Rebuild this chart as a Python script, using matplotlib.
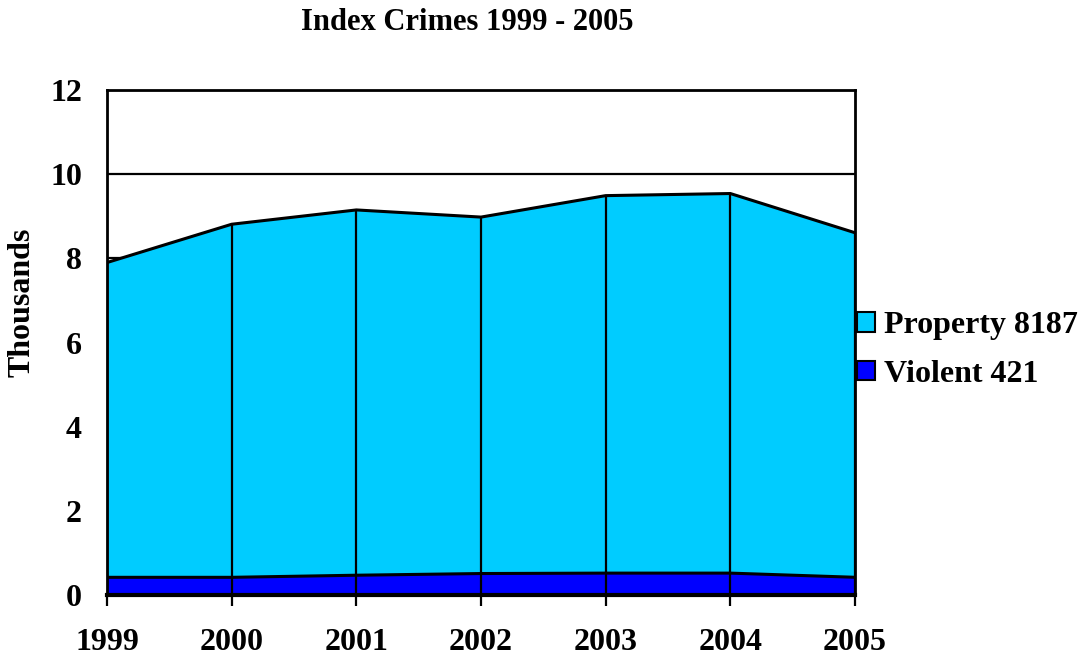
import matplotlib
matplotlib.use("Agg")
import matplotlib.pyplot as plt
from matplotlib.patches import Patch

years = [1999, 2000, 2001, 2002, 2003, 2004, 2005]
violent = [0.42, 0.42, 0.47, 0.51, 0.52, 0.52, 0.421]
property_ = [7.48, 8.39, 8.68, 8.47, 8.97, 9.02, 8.187]
series_labels = ["Property 8187", "Violent 421"]
yticks = [0, 2, 4, 6, 8, 10, 12]

plt.rcParams['font.family'] = ['Liberation Serif', 'DejaVu Serif']
plt.rcParams['font.weight'] = 'bold'

fig = plt.figure(figsize=(10.87, 6.58), dpi=100)
ax = fig.add_axes([107/1087, 1 - 595/658, (855-107)/1087, (595-90)/658])

total = [v + p for v, p in zip(violent, property_)]
ax.fill_between(years, 0, violent, color='#0000FF', zorder=2, linewidth=0)
ax.fill_between(years, violent, total, color='#00CCFF', zorder=2, linewidth=0)
ax.plot(years, violent, color='black', lw=2.2, zorder=3)
ax.plot(years, total, color='black', lw=2.2, zorder=3)
ax.vlines(years, 0, total, color='black', lw=1.6, zorder=3)

ax.set_xlim(1999, 2005)
ax.set_ylim(0, 12)
ax.set_xticks(years)
ax.set_xticklabels([str(y) for y in years], fontsize=23, fontweight='bold')
ax.set_yticks(yticks)
ax.set_yticklabels([str(t) for t in yticks], fontsize=23, fontweight='bold')
ax.tick_params(axis='x', direction='out', length=8, width=1.6, pad=16)
ax.tick_params(axis='y', length=0, pad=18)
ax.yaxis.grid(True, color='black', lw=1.6, zorder=1)
ax.set_axisbelow(True)
for s in ax.spines.values():
    s.set_color('black')
    s.set_linewidth(2)
    s.set_zorder(4)
ax.spines['bottom'].set_linewidth(3)

fig.text(22/1087, 1 - 302/658, 'Thousands', rotation=90, ha='center', va='center',
         fontsize=23, fontweight='bold')
fig.text(467/1087, 1 - 23/658, 'Index Crimes 1999 - 2005', ha='center', va='center',
         fontsize=22, fontweight='bold')

handles = [Patch(facecolor='#00CCFF', edgecolor='black', lw=1.5),
           Patch(facecolor='#0000FF', edgecolor='black', lw=1.5)]
fig.legend(handles, series_labels, loc='center left',
           bbox_to_anchor=(857/1087, 1 - 350/658), frameon=False,
           prop={'size': 23, 'weight': 'bold'}, handlelength=0.55, handleheight=0.55,
           handletextpad=0.3, labelspacing=0.6, borderpad=0, borderaxespad=0)

fig.savefig('out.png', dpi=100)
